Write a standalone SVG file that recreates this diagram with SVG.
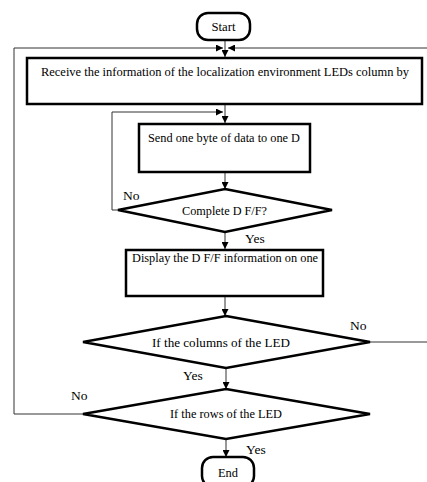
<svg xmlns="http://www.w3.org/2000/svg" width="427" height="482" viewBox="0 0 427 482">
<style>
.box{fill:#fff;stroke:#000;stroke-width:2.5}
.con{fill:none;stroke:#333;stroke-width:1}
.t{font-family:"Liberation Serif","Times New Roman","DejaVu Serif",serif;font-size:13.5px;fill:#000}
.c{text-anchor:middle}
</style>
<defs>
<marker id="ah" viewBox="0 0 8 8" refX="8" refY="4" markerWidth="7" markerHeight="7" markerUnits="userSpaceOnUse" orient="auto">
<path d="M0,0 L8,4 L0,8 Z" fill="#000"/>
</marker>
</defs>
<rect width="427" height="482" fill="#fff"/>
<g id="connectors">
<path class="con" d="M225,40 V57" marker-end="url(#ah)"/>
<path class="con" d="M83,414 H14 V48 H223" marker-end="url(#ah)"/>
<path class="con" d="M370,342 H432 V48 H228" marker-end="url(#ah)"/>
<path class="con" d="M225,104 V123" marker-end="url(#ah)"/>
<path class="con" d="M118,210 H112 V112 H223" marker-end="url(#ah)"/>
<path class="con" d="M225,172 V189" marker-end="url(#ah)"/>
<path class="con" d="M225,232 V249" marker-end="url(#ah)"/>
<path class="con" d="M225,296 V316" marker-end="url(#ah)"/>
<path class="con" d="M226,368 V389" marker-end="url(#ah)"/>
<path class="con" d="M226,439 V457" marker-end="url(#ah)"/>
<text class="t" x="123" y="200">No</text>
<text class="t" x="245" y="243">Yes</text>
<text class="t" x="350" y="330">No</text>
<text class="t" x="183" y="380">Yes</text>
<text class="t" x="71" y="400">No</text>
<text class="t" x="246" y="454">Yes</text>
</g>
<g id="start">
<rect class="box" x="197" y="13" width="53" height="27" rx="11"/>
<text class="t c" x="223.5" y="31" textLength="24" lengthAdjust="spacingAndGlyphs">Start</text>
</g>
<g id="receive">
<rect class="box" x="27" y="58" width="395" height="46"/>
<text class="t c" transform="translate(225,76) scale(0.9,1)" x="0" y="0" textLength="409" lengthAdjust="spacingAndGlyphs">Receive the information of the localization environment LEDs column by</text>
</g>
<g id="send">
<rect class="box" x="139" y="124" width="171" height="48"/>
<text class="t c" x="224" y="142" textLength="152" lengthAdjust="spacingAndGlyphs">Send one byte of data to one D</text>
</g>
<g id="complete">
<polygon class="box" points="225,189 332,210 225,232 118,210"/>
<text class="t c" x="224.5" y="215" textLength="85" lengthAdjust="spacingAndGlyphs">Complete D F/F?</text>
</g>
<g id="display">
<rect class="box" x="126" y="250" width="197" height="46"/>
<text class="t c" x="225" y="262" textLength="186" lengthAdjust="spacingAndGlyphs">Display the D F/F information on one</text>
</g>
<g id="columns">
<polygon class="box" points="226,316 370,342 226,368 83,342"/>
<text class="t c" x="221" y="347" textLength="138" lengthAdjust="spacingAndGlyphs">If the columns of the LED</text>
</g>
<g id="rows">
<polygon class="box" points="226,389 370,414 226,439 83,414"/>
<text class="t c" x="226" y="418" textLength="112" lengthAdjust="spacingAndGlyphs">If the rows of the LED</text>
</g>
<g id="end">
<rect class="box" x="202" y="457" width="52" height="30" rx="11"/>
<text class="t c" x="228" y="477" textLength="20" lengthAdjust="spacingAndGlyphs">End</text>
</g>
</svg>
